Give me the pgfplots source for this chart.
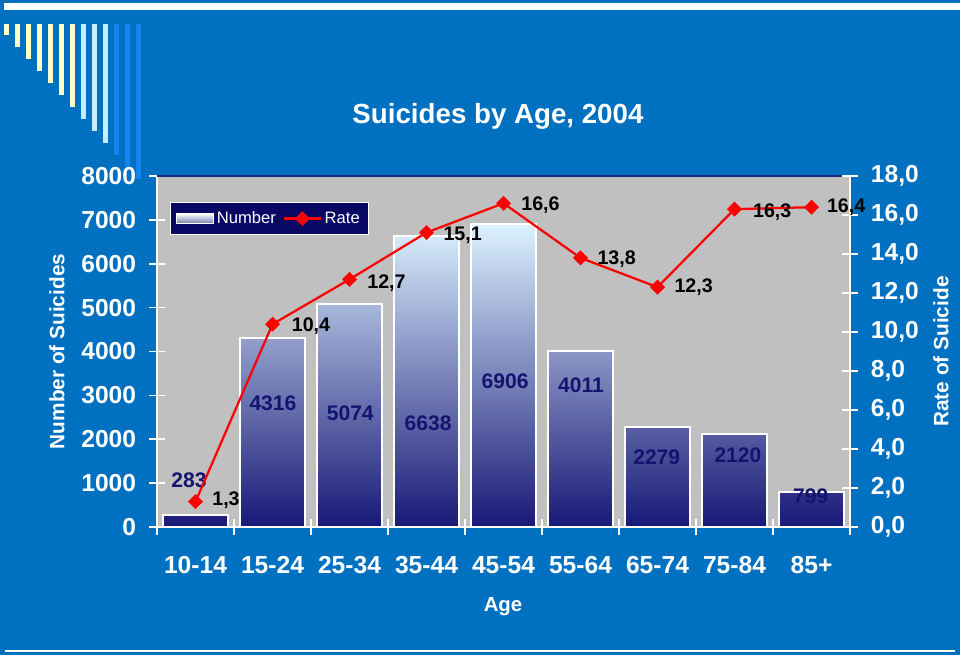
\documentclass[border=0pt]{standalone}
\usepackage{fontspec}
\setmainfont{Liberation Sans}
\usepackage{pgfplots}
\pgfplotsset{compat=1.18}

\definecolor{bgblue}{RGB}{0,112,192}
\definecolor{plotgray}{RGB}{192,192,192}
\definecolor{bartop}{RGB}{220,242,255}
\definecolor{barmid}{RGB}{140,155,200}
\definecolor{barbot}{RGB}{24,24,118}
\definecolor{lblnavy}{RGB}{20,20,112}
\definecolor{legnavy}{RGB}{8,8,100}
\definecolor{topline}{RGB}{25,40,130}
\definecolor{stripey}{RGB}{255,255,204}
\definecolor{stripel}{RGB}{200,236,255}
\definecolor{stripeb}{RGB}{20,132,240}

\pgfplotsset{
  rateleg/.style={legend image code/.code={
    \draw[mark repeat=2, mark phase=2, ##1] plot coordinates {(0cm,0cm) (0.46cm,0cm) (0.92cm,0cm)};}},
  numleg/.style={legend image code/.code={
    \draw[white, line width=0.8pt, top color=white, bottom color={rgb,255:red,110;green,125;blue,170}]
      (0cm,-0.13cm) rectangle (0.92cm,0.13cm);}},
}

\begin{document}
\begin{tikzpicture}
\path[use as bounding box, fill=bgblue] (0,0) rectangle (24cm,-16.375cm);

% decoration, in pixels of the reference
\begin{scope}[x=0.025cm, y=-0.025cm]
  \fill[white] (4,3) rectangle (960,10);
  \foreach \i in {0,...,12} {
    \ifnum\i<7 \def\c{stripey}\else\ifnum\i<10 \def\c{stripel}\else\def\c{stripeb}\fi\fi
    \fill[\c] ({4+11*\i},24) rectangle ({9+11*\i},{35+12*\i});
  }
  \draw[white, line width=1pt] (5,651) -- (955,651);
\end{scope}

\pgfplotsset{
  base/.style={
    at={(3.925cm,-13.175cm)}, anchor=south west,
    scale only axis, width=17.325cm, height=8.775cm,
    xmin=-0.5, xmax=8.5,
    clip=false,
    tick align=center,
    major tick length=10.7pt, minor tick length=10.7pt,
    tick style={white, line width=1.2pt},
    axis line style={white, line width=1.2pt, -},
    ticklabel style={text=white, font=\bfseries\fontsize{17.5}{20}\selectfont},
    /pgf/number format/assume math mode=true,
  },
}

% bars, left axis
\begin{axis}[base,
  ymin=0, ymax=8000,
  axis x line*=bottom, axis y line*=left,
  axis background/.style={fill=plotgray},
  xtick={0,...,8},
  xticklabels={10-14,15-24,25-34,35-44,45-54,55-64,65-74,75-84,85+},
  major x tick style={draw=none},
  minor xtick={-0.5,0.5,...,8.5},
  xticklabel style={yshift=-12pt},
  ytick={0,1000,...,8000},
  yticklabel style={xshift=-6pt, /pgf/number format/1000 sep={}},
  title={Suicides by Age, 2004},
  title style={at={(axis description cs:0.492,1.145)}, anchor=center, yshift=0pt,
    font=\bfseries\fontsize{19.7}{23}\selectfont, text=white},
  xlabel={Age},
  xlabel style={at={(axis description cs:0.4993,-0.226)}, anchor=center,
    font=\bfseries\fontsize{14.5}{17}\selectfont, text=white},
  ylabel={Number of Suicides},
  ylabel style={at={(axis description cs:-0.1443,0.5)}, anchor=center, rotate=0,
    font=\bfseries\fontsize{14.8}{17}\selectfont, text=white},
]
\draw[topline, line width=1.4pt] (rel axis cs:0,1) -- (rel axis cs:1,1);
\addplot[ybar, bar width=0.84, draw=white, line width=1.5pt,
  top color=bartop, middle color=barmid, bottom color=barbot]
  coordinates {(0,283) (1,4316) (2,5074) (3,6638) (4,6906) (5,4011) (6,2279) (7,2120) (8,799)};

\begin{scope}[font=\bfseries\fontsize{15}{18}\selectfont, text=lblnavy]
\node at (axis cs:-0.084,1071) {283};
\node at (axis cs:1.006,2826) {4316};
\node at (axis cs:2.01,2598) {5074};
\node at (axis cs:3.02,2370) {6638};
\node at (axis cs:4.02,3327) {6906};
\node at (axis cs:5.006,3236) {4011};
\node at (axis cs:5.99,1595) {2279};
\node at (axis cs:7.045,1641) {2120};
\node at (axis cs:7.99,706) {799};
\end{scope}
\end{axis}

% rate, right axis
\begin{axis}[base,
  ymin=0, ymax=18,
  axis x line=none, axis y line*=right,
  ytick={0,2,...,18},
  yticklabel style={xshift=6pt, /pgf/number format/.cd, fixed, fixed zerofill, precision=1, use comma},
  ylabel={Rate of Suicide},
  ylabel style={at={(axis description cs:1.1313,0.5)}, anchor=center, rotate=0,
    font=\bfseries\fontsize{14.8}{17}\selectfont, text=white},
  legend columns=2,
  legend style={at={(axis description cs:0.0188,0.926)}, anchor=north west,
    fill=legnavy, draw=white, line width=0.6pt, text=white,
    font=\fontsize{11.8}{14}\selectfont, inner xsep=4pt, inner ysep=4.5pt,
    /tikz/every even column/.append style={column sep=3pt}},
]
\addlegendimage{numleg}
\addlegendentry{Number}
\addplot[rateleg, red, line width=1.6pt, mark=square*, mark size=3.5pt,
  mark options={rotate=45, fill=red, draw=red, line width=0.5pt}]
  coordinates {(0,1.3) (1,10.4) (2,12.7) (3,15.1) (4,16.6) (5,13.8) (6,12.3) (7,16.3) (8,16.4)};
\addlegendentry{Rate}

\begin{scope}[font=\bfseries\fontsize{14}{17}\selectfont, text=black]
\node at (axis cs:0.396,1.385) {1,3};
\node at (axis cs:1.5,10.31) {10,4};
\node at (axis cs:2.48,12.51) {12,7};
\node at (axis cs:3.47,14.97) {15,1};
\node at (axis cs:4.48,16.51) {16,6};
\node at (axis cs:5.47,13.74) {13,8};
\node at (axis cs:6.47,12.31) {12,3};
\node at (axis cs:7.49,16.15) {16,3};
\node at (axis cs:8.45,16.41) {16,4};
\end{scope}
\end{axis}
\end{tikzpicture}
\end{document}
